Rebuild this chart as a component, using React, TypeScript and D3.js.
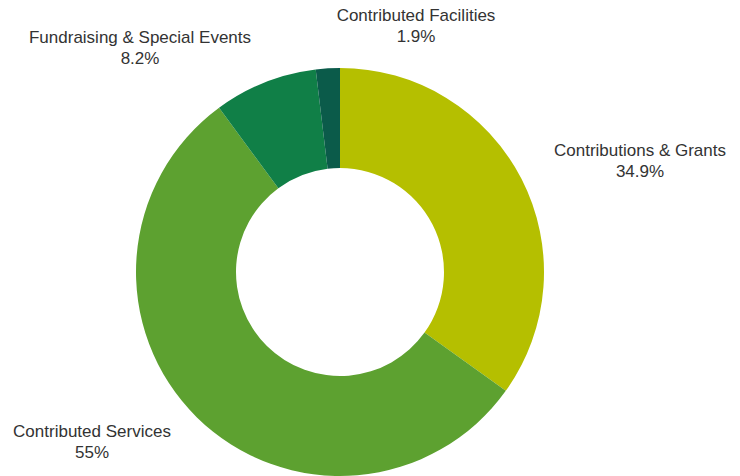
import React from 'react';
import { pie, arc } from 'd3';

const categories = ['Contributions & Grants', 'Contributed Services', 'Fundraising & Special Events', 'Contributed Facilities'];
const values = [34.9, 55, 8.2, 1.9];
const valueLabels = ['34.9%', '55%', '8.2%', '1.9%'];
const colors = ['#b5bf00', '#5da130', '#107f47', '#0b5b4a'];

// label anchor spots (center of the first text line)
const labelPos: Array<[number, number]> = [[640, 150], [92, 431], [140, 37], [416, 15]];

const App = () => {
    let svgWidth = 740;
    let svgHeight = 476;
    let cx = 340, cy = 272;
    let outer = 204, inner = 104;

    let pieGen = pie<number>().sort(null).value(d => d);
    let arcs = pieGen(values);
    let arcGen = arc<any>().innerRadius(inner).outerRadius(outer);

    return (
        <svg width={svgWidth} height={svgHeight} style={{ position: 'absolute', left: 0, top: 0, background: '#fff' }}>
            <g transform={`translate(${cx},${cy})`}>
                {arcs.map((a, i) => <path key={categories[i]} d={arcGen(a) ?? ''} fill={colors[i]} />)}
            </g>
            {categories.map((c, i) => (
                <text key={c} x={labelPos[i][0]} y={labelPos[i][1]} textAnchor='middle'
                    style={{ fontFamily: '"Liberation Sans", Arial, sans-serif', fontSize: 17, fill: '#333' }}>
                    <tspan x={labelPos[i][0]} dy='0.36em'>{c}</tspan>
                    <tspan x={labelPos[i][0]} dy='21'>{valueLabels[i]}</tspan>
                </text>
            ))}
        </svg>
    );
}

export default App;
